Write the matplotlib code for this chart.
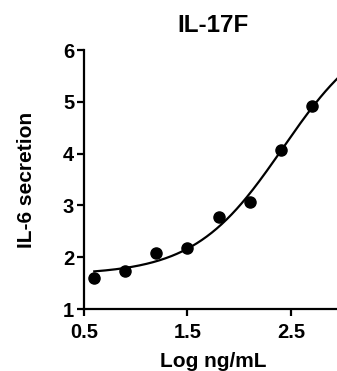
import numpy as np
import matplotlib
matplotlib.use("Agg")
from matplotlib import pyplot as plt

plt.rcParams['font.family'] = ['Liberation Sans', 'DejaVu Sans']
plt.rcParams['font.weight'] = 'bold'

# measured points (log dose vs IL-6 secretion)
log_dose = [0.6, 0.9, 1.2, 1.5, 1.8, 2.1, 2.4, 2.7]
il6 = [1.60, 1.74, 2.08, 2.18, 2.77, 3.07, 4.07, 4.93]

# 4PL fit parameters
bottom, top, log_ec50, hill = 1.66, 6.55, 2.42, 1.02

fig = plt.figure(figsize=(3.37, 3.71), dpi=100)
ax = fig.add_axes([0.249, 0.167, 0.751, 0.698])

xc = np.linspace(0.6, 3.0, 200)
yc = bottom + (top - bottom) / (1 + 10 ** ((log_ec50 - xc) * hill))
ax.plot(xc, yc, color='black', lw=1.6)
ax.plot(log_dose, il6, 'o', color='black', ms=8)

ax.set_xlim(0.5, 2.944)
ax.set_ylim(1, 6)
ax.set_xticks([0.5, 1.5, 2.5])
ax.set_yticks([1, 2, 3, 4, 5, 6])
ax.spines['top'].set_visible(False)
ax.spines['right'].set_visible(False)
for s in ['left', 'bottom']:
    ax.spines[s].set_linewidth(1.6)
ax.tick_params(width=1.6, length=5, labelsize=14.5)
ax.tick_params(axis='y', pad=2)
ax.tick_params(axis='x', pad=5)

ax.set_title('IL-17F', fontsize=17.5, fontweight='bold', pad=13)
ax.title.set_x(0.51)
ax.set_xlabel('Log ng/mL', fontsize=15, fontweight='bold')
ax.set_ylabel('IL-6 secretion', fontsize=15, fontweight='bold')
ax.xaxis.set_label_coords(0.51, -0.165)
ax.yaxis.set_label_coords(-0.19, 0.5)

fig.savefig('out.png', dpi=100)
